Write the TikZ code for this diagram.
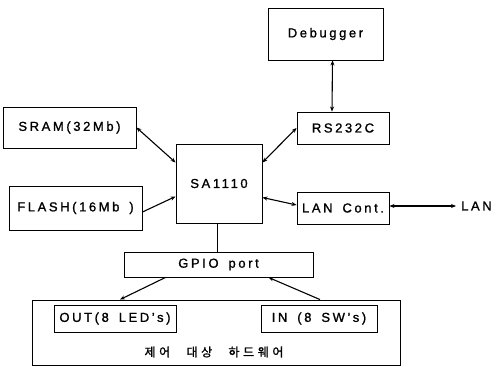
\documentclass[tikz,border=0pt]{standalone}
\usepackage{fontspec}
\setmainfont[LetterSpace=20,WordSpace=1.6,FakeBold=1.2]{Liberation Sans}
\newfontfamily\krfont[LetterSpace=30,FakeBold=1.2]{Noto Sans CJK KR}
\usetikzlibrary{arrows.meta,positioning}

\begin{document}
\begin{tikzpicture}[x=1pt, y=-1pt,
    box/.style={draw, line width=0.9pt, inner sep=0pt, align=center, font=\fontsize{13}{15}\selectfont},
    arr/.style={-{Stealth[length=5pt,width=4pt]}, line width=1.1pt},
    darr/.style={{Stealth[length=5pt,width=4pt]}-{Stealth[length=5pt,width=4pt]}, line width=1.1pt},
]
\useasboundingbox (0,0) rectangle (501,367);

% processor and memories
\node[box, minimum width=86pt, minimum height=79pt] (sa) at (219,183.5) {SA1110};
\node[box, minimum width=133pt, minimum height=41pt] (sram) at (69.5,127.5) {SRAM(32Mb)};
\node[box, minimum width=133pt, minimum height=44pt] (flash) at (75.5,208) {FLASH(16Mb )};

% serial and network side
\node[box, minimum width=115pt, minimum height=52pt] (dbg) at (325.5,34) {Debugger};
\node[box, minimum width=92pt, minimum height=32pt] (rs) at (343,128) {RS232C};
\node[box, minimum width=92pt, minimum height=32pt] (lanc) at (343,208) {LAN Cont.};
\node[font=\fontsize{13}{15}\selectfont, anchor=west, inner sep=0pt] (lan) at (461,206) {LAN};

% GPIO and controlled hardware
\node[box, minimum width=189pt, minimum height=25pt] (gpio) at (218.5,264.5) {GPIO port};
\node[box, minimum width=368pt, minimum height=65pt] (hw) at (216,332.5) {};
\node[box, minimum width=122pt, minimum height=27pt] (out) at (115,318.5) {OUT(8 LED's)};
\node[box, minimum width=116pt, minimum height=27pt] (in) at (319,318.5) {IN (8 SW's)};
\node[font=\krfont\fontsize{12}{14}\selectfont, inner sep=0pt] (hwlabel) at (214,352) {제어\hspace{10pt} 대상\hspace{10pt} 하드웨어};

% connections
\draw[darr] (sram.east) -- ([yshift=21pt]sa.west);
\draw[arr] ([yshift=-4pt]flash.east) -- ([yshift=-13pt]sa.west);
\draw[darr] (rs.west) -- ([yshift=21pt]sa.east);
\draw[darr] ([yshift=3pt]lanc.west) -- ([yshift=-14pt]sa.east);
\draw[darr] ([xshift=7pt]dbg.south) -- ([xshift=-11pt]rs.north);
\draw[darr] ([yshift=2pt]lanc.east) -- ([xshift=-5pt]lan.west);
\draw[line width=0.9pt] ([xshift=-2pt]sa.south) -- ([xshift=-2pt]sa.south |- gpio.north);
\draw[arr] ([xshift=-53pt]gpio.south) -- ([xshift=-96pt]hw.north);
\draw[arr] ([xshift=104pt]hw.north) -- ([xshift=50pt]gpio.south);
\end{tikzpicture}
\end{document}
